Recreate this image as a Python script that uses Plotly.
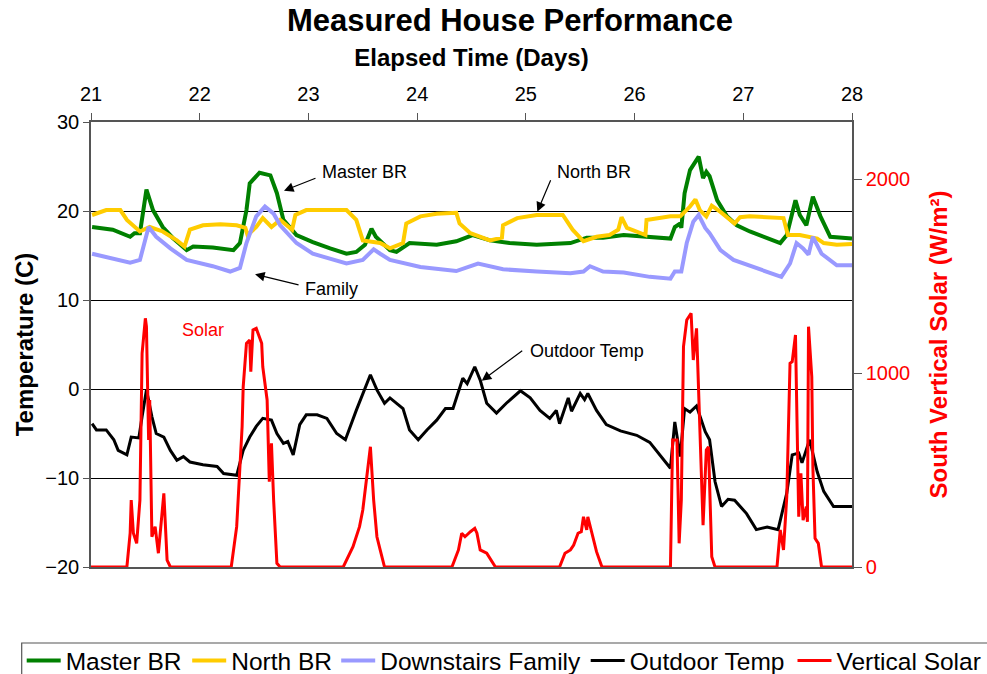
import plotly.graph_objects as go

# ---------------- data ----------------
master_day = [21.01, 21.20, 21.36, 21.40, 21.45, 21.51, 21.57, 21.66, 21.75, 21.88, 21.94, 22.12,
              22.31, 22.37, 22.43, 22.46, 22.55, 22.65, 22.71, 22.77, 22.89, 23.04, 23.20, 23.35,
              23.44, 23.52, 23.58, 23.62, 23.75, 23.81, 23.93, 24.18, 24.36, 24.51, 24.67, 24.85,
              25.10, 25.41, 25.56, 25.71, 25.90, 26.02, 26.14, 26.33, 26.37, 26.42, 26.43, 26.46,
              26.51, 26.59, 26.63, 26.66, 26.69, 26.76, 26.85, 26.94, 27.06, 27.22, 27.34, 27.40,
              27.48, 27.52, 27.58, 27.64, 27.71, 27.80, 28.00]
master_temp = [18.2, 17.9, 17.1, 17.5, 17.5, 22.4, 20.1, 18.2, 17.0, 15.6, 16.0, 15.9,
               15.6, 16.4, 20.1, 23.1, 24.3, 24.0, 22.0, 19.0, 17.3, 16.5, 15.8, 15.2,
               15.4, 16.2, 18.0, 17.1, 15.6, 15.4, 16.4, 16.2, 16.6, 17.3, 16.7, 16.4,
               16.2, 16.4, 17.0, 17.0, 17.3, 17.2, 17.1, 16.9, 18.2, 18.6, 18.1, 22.0,
               24.6, 26.1, 23.7, 24.4, 23.9, 21.2, 19.4, 18.4, 17.7, 16.9, 16.4, 17.3,
               21.2, 19.55, 18.4, 21.6, 19.4, 17.1, 16.9]

north_day = [21.01, 21.14, 21.27, 21.33, 21.45, 21.54, 21.66, 21.79, 21.86, 21.91, 22.03, 22.19,
             22.34, 22.42, 22.44, 22.52, 22.58, 22.66, 22.74, 22.85, 22.88, 22.98, 23.35, 23.44,
             23.50, 23.66, 23.75, 23.87, 23.90, 24.03, 24.18, 24.36, 24.39, 24.49, 24.67, 24.78,
             24.79, 24.92, 25.10, 25.34, 25.43, 25.53, 25.65, 25.77, 25.85, 25.88, 25.93, 26.10,
             26.11, 26.33, 26.42, 26.51, 26.56, 26.60, 26.66, 26.71, 26.79, 26.92, 26.97, 27.06,
             27.37, 27.41, 27.52, 27.68, 27.74, 27.86, 28.00]
north_temp = [19.55, 20.1, 20.1, 19.0, 17.7, 18.2, 17.7, 16.7, 16.0, 17.9, 18.4, 18.5,
              18.4, 18.1, 17.3, 18.2, 19.2, 18.2, 19.0, 17.9, 19.55, 20.1, 20.1, 19.0,
              16.7, 16.4, 15.8, 16.4, 18.6, 19.4, 19.7, 19.8, 18.6, 17.5, 16.7, 17.0,
              18.4, 19.2, 19.55, 19.55, 17.9, 16.6, 17.1, 17.3, 17.9, 19.3, 18.1, 17.3,
              19.0, 19.4, 19.4, 20.5, 21.3, 20.1, 19.4, 20.6, 19.9, 18.6, 19.3, 19.4,
              19.2, 17.3, 17.3, 16.9, 16.4, 16.2, 16.3]

family_day = [21.01, 21.36, 21.45, 21.53, 21.60, 21.73, 21.88, 22.12, 22.28, 22.37, 22.43, 22.52,
              22.60, 22.68, 22.74, 22.89, 23.04, 23.35, 23.50, 23.60, 23.66, 23.75, 24.03, 24.36,
              24.56, 24.79, 25.10, 25.41, 25.53, 25.59, 25.71, 25.90, 26.14, 26.33, 26.37, 26.43,
              26.48, 26.54, 26.59, 26.65, 26.69, 26.79, 26.91, 27.15, 27.35, 27.43, 27.49, 27.55,
              27.60, 27.64, 27.72, 27.86, 28.00]
family_temp = [15.2, 14.2, 14.5, 18.2, 17.1, 15.8, 14.5, 13.8, 13.2, 13.6, 16.4, 19.4,
               20.5, 19.7, 18.4, 16.4, 15.2, 14.1, 14.5, 15.7, 15.2, 14.5, 13.7, 13.25,
               14.1, 13.45, 13.2, 13.0, 13.2, 13.8, 13.2, 13.1, 12.6, 12.4, 13.2, 13.2,
               16.4, 18.8, 19.55, 18.1, 17.5, 15.6, 14.5, 13.4, 12.6, 14.1, 16.4, 15.8,
               15.1, 17.1, 15.2, 13.9, 13.9]

outdoor_day = [21.01, 21.05, 21.14, 21.21, 21.25, 21.33, 21.37, 21.44, 21.47, 21.51, 21.56, 21.60,
               21.67, 21.73, 21.79, 21.85, 21.91, 22.03, 22.16, 22.22, 22.34, 22.40, 22.46, 22.52,
               22.58, 22.66, 22.71, 22.77, 22.81, 22.86, 22.92, 22.98, 23.08, 23.17, 23.26, 23.34,
               23.44, 23.57, 23.63, 23.70, 23.75, 23.87, 23.93, 24.01, 24.09, 24.18, 24.26, 24.33,
               24.42, 24.46, 24.53, 24.58, 24.64, 24.73, 24.82, 24.95, 25.04, 25.13, 25.22, 25.28,
               25.31, 25.39, 25.42, 25.50, 25.54, 25.57, 25.65, 25.74, 25.87, 26.02, 26.14, 26.23,
               26.33, 26.37, 26.42, 26.46, 26.51, 26.57, 26.65, 26.69, 26.74, 26.80, 26.86, 26.92,
               27.03, 27.12, 27.22, 27.32, 27.40, 27.45, 27.51, 27.54, 27.61, 27.68, 27.74, 27.83,
               28.00]
outdoor_temp = [-3.9, -4.6, -4.6, -5.7, -6.9, -7.4, -5.4, -5.5, -3.1, -0.1, -3.1, -5.0,
                -5.4, -6.9, -8.0, -7.6, -8.2, -8.5, -8.7, -9.5, -9.7, -6.9, -5.4, -4.2,
                -3.3, -3.5, -5.0, -6.1, -5.9, -7.4, -4.0, -2.9, -2.9, -3.3, -5.0, -5.7,
                -2.4, 1.6, -0.1, -1.6, -1.0, -2.2, -4.6, -5.7, -4.6, -3.5, -2.2, -2.2,
                1.2, 0.6, 2.5, 1.0, -1.6, -2.7, -1.6, -0.2, -1.0, -2.4, -3.3, -2.4,
                -3.9, -1.0, -2.5, -0.5, -1.2, -0.5, -2.4, -4.0, -4.7, -5.2, -6.0, -7.4,
                -8.9, -3.7, -7.6, -2.2, -2.6, -1.9, -4.8, -5.7, -10.4, -13.2, -12.4, -12.5,
                -14.0, -15.8, -15.5, -15.8, -11.7, -7.4, -7.2, -8.3, -5.7, -9.3, -11.5, -13.2,
                -13.2]

solar_day = [21.00, 21.33, 21.36, 21.37, 21.39, 21.42, 21.45, 21.47, 21.50, 21.51, 21.53, 21.54,
             21.56, 21.59, 21.62, 21.67, 21.70, 21.73,
             22.29, 22.34, 22.39, 22.40, 22.43, 22.46, 22.47, 22.49, 22.52, 22.57, 22.58, 22.62,
             22.64, 22.66, 22.68, 22.71, 22.74,
             23.32, 23.41, 23.47, 23.50, 23.54, 23.57, 23.60, 23.63, 23.66, 23.70,
             24.32, 24.38, 24.41, 24.44, 24.49, 24.53, 24.55, 24.58, 24.64, 24.72,
             25.31, 25.36, 25.41, 25.44, 25.48, 25.51, 25.53, 25.56, 25.57, 25.61, 25.65, 25.70,
             26.33, 26.35, 26.39, 26.41, 26.43, 26.45, 26.48, 26.52, 26.54, 26.57, 26.59, 26.63,
             26.66, 26.68, 26.71, 26.74,
             27.31, 27.34, 27.37, 27.40, 27.43, 27.45, 27.48, 27.49, 27.51, 27.53, 27.55, 27.58,
             27.59, 27.60, 27.63, 27.64, 27.66, 27.69, 27.72, 28.00]
solar_wm2 = [0, 0, 174, 345, 174, 122, 345, 1101, 1282, 1239, 655, 861,
             156, 208, 71, 380, 36, 0,
             0, 208, 723, 929, 1153, 1170, 1007, 1222, 1230, 1153, 1032, 861,
             440, 638, 345, 19, 0,
             0, 105, 208, 294, 483, 620, 345, 156, 88, 0,
             0, 88, 174, 156, 182, 199, 174, 88, 71, 0,
             0, 71, 88, 113, 174, 182, 259, 191, 259, 174, 79, 0,
             0, 655, 655, 122, 345, 1136, 1273, 1308, 1067, 1230, 861, 216,
             603, 620, 53, 0,
             0, 191, 88, 362, 1050, 1058, 1196, 861, 259, 483, 242, 311,
             233, 1239, 981, 517, 148, 122, 0, 0]

day_ticks = [21, 22, 23, 24, 25, 26, 27, 28]
temp_ticks = [-20, -10, 0, 10, 20, 30]
solar_ticks = [0, 1000, 2000]

# ---------------- figure ----------------
FONT = "Liberation Sans, Arial, sans-serif"
AXC = "#555555"

fig = go.Figure()
fig.add_trace(go.Scatter(x=master_day, y=master_temp, mode="lines", name="Master BR",
                         line=dict(color="#008000", width=4), legend="legend"))
fig.add_trace(go.Scatter(x=north_day, y=north_temp, mode="lines", name="North BR",
                         line=dict(color="#FFCC00", width=4), legend="legend2"))
fig.add_trace(go.Scatter(x=family_day, y=family_temp, mode="lines", name="Downstairs Family",
                         line=dict(color="#9999FF", width=4), legend="legend3"))
fig.add_trace(go.Scatter(x=outdoor_day, y=outdoor_temp, mode="lines", name="Outdoor Temp",
                         line=dict(color="black", width=3), legend="legend4"))
fig.add_trace(go.Scatter(x=solar_day, y=solar_wm2, mode="lines", name="Vertical Solar",
                         line=dict(color="#FF0000", width=3), yaxis="y2", legend="legend5"))

L, R, T, B = 91, 135, 122, 107
W, H = 987, 674
pw, ph = W - L - R, H - T - B


def px_x(p):
    return (p - L) / pw


def px_y(p):
    return (H - B - p) / ph


leg_common = dict(orientation="h", xanchor="left", yanchor="top", y=px_y(638),
                  borderwidth=0, bgcolor="rgba(0,0,0,0)", itemwidth=34,
                  font=dict(family=FONT, size=24.5, color="black"))
leg_starts = [21.7, 187.2, 336.2, 585.7, 792.5]

fig.update_layout(
    width=W, height=H,
    margin=dict(l=L, r=R, t=T, b=B, autoexpand=False),
    showlegend=True,
    paper_bgcolor="white", plot_bgcolor="white",
    font=dict(family=FONT, color="black"),
    title=dict(text="<b>Measured House Performance</b>", x=510 / W, xanchor="center",
               y=1 - 20 / H, yanchor="middle", font=dict(family=FONT, size=31, color="black")),
    xaxis=dict(range=[21, 28], side="top", tickvals=day_ticks, ticks="outside", ticklen=7,
               tickcolor=AXC, showline=True, linecolor=AXC, linewidth=1.5, mirror=True,
               showgrid=False, zeroline=False, tickfont=dict(size=20), ticklabelstandoff=4,
               title=dict(text="<b>Elapsed Time (Days)</b>", font=dict(size=24), standoff=10)),
    yaxis=dict(range=[-20, 30], tickvals=temp_ticks, ticks="outside", ticklen=6,
               tickcolor=AXC, showline=True, linecolor=AXC, linewidth=1.5,
               showgrid=True, gridcolor="black", gridwidth=1, zeroline=False,
               tickfont=dict(size=20),
               title=dict(text="<b>Temperature (C)</b>", font=dict(size=24), standoff=5)),
    yaxis2=dict(overlaying="y", side="right", range=[0, 2294], tickvals=solar_ticks,
                ticks="outside", ticklen=8, tickcolor=AXC, showline=True, linecolor=AXC,
                linewidth=1.5, showgrid=False, zeroline=False,
                tickfont=dict(size=20, color="#FF0000"),
                title=dict(text="<b>South Vertical Solar (W/m²)</b>",
                           font=dict(size=24, color="#FF0000"), standoff=21)),
    legend=dict(x=px_x(leg_starts[0]), visible=True, **leg_common),
    legend2=dict(x=px_x(leg_starts[1]), **leg_common),
    legend3=dict(x=px_x(leg_starts[2]), **leg_common),
    legend4=dict(x=px_x(leg_starts[3]), **leg_common),
    legend5=dict(x=px_x(leg_starts[4]), **leg_common),
)

# legend frame
fig.add_shape(type="rect", xref="paper", yref="paper",
              x0=px_x(21.7), x1=px_x(1000), y0=px_y(643), y1=px_y(690),
              line=dict(color=AXC, width=1.2), fillcolor="rgba(0,0,0,0)", layer="above")

# arrows
arrow = dict(text="", showarrow=True, arrowhead=2, arrowsize=1.6, arrowwidth=1.2,
             arrowcolor="black", xref="x", yref="y")
fig.add_annotation(x=22.775, y=22.28, ax=33, ay=-13, **arrow)
fig.add_annotation(x=25.105, y=19.92, ax=14, ay=-33, **arrow)
fig.add_annotation(x=22.509, y=12.89, ax=45, ay=11, **arrow)
fig.add_annotation(x=24.594, y=0.93, ax=42, ay=-31, **arrow)

# labels
lab = dict(showarrow=False, xanchor="left", yanchor="middle", xref="x", yref="y",
           font=dict(family=FONT, size=18, color="black"))
fig.add_annotation(x=23.107, y=24.38, text="Master BR", **lab)
fig.add_annotation(x=25.268, y=24.38, text="North BR", **lab)
fig.add_annotation(x=22.95, y=11.24, text="Family", **lab)
fig.add_annotation(x=25.02, y=4.30, text="Outdoor Temp", **lab)
lab_red = dict(lab)
lab_red["font"] = dict(family=FONT, size=18, color="#FF0000")
fig.add_annotation(x=21.819, y=6.60, text="Solar", **lab_red)

fig.write_html("out.html", config={"displayModeBar": False},
               post_script="document.body.style.margin='0px';")
